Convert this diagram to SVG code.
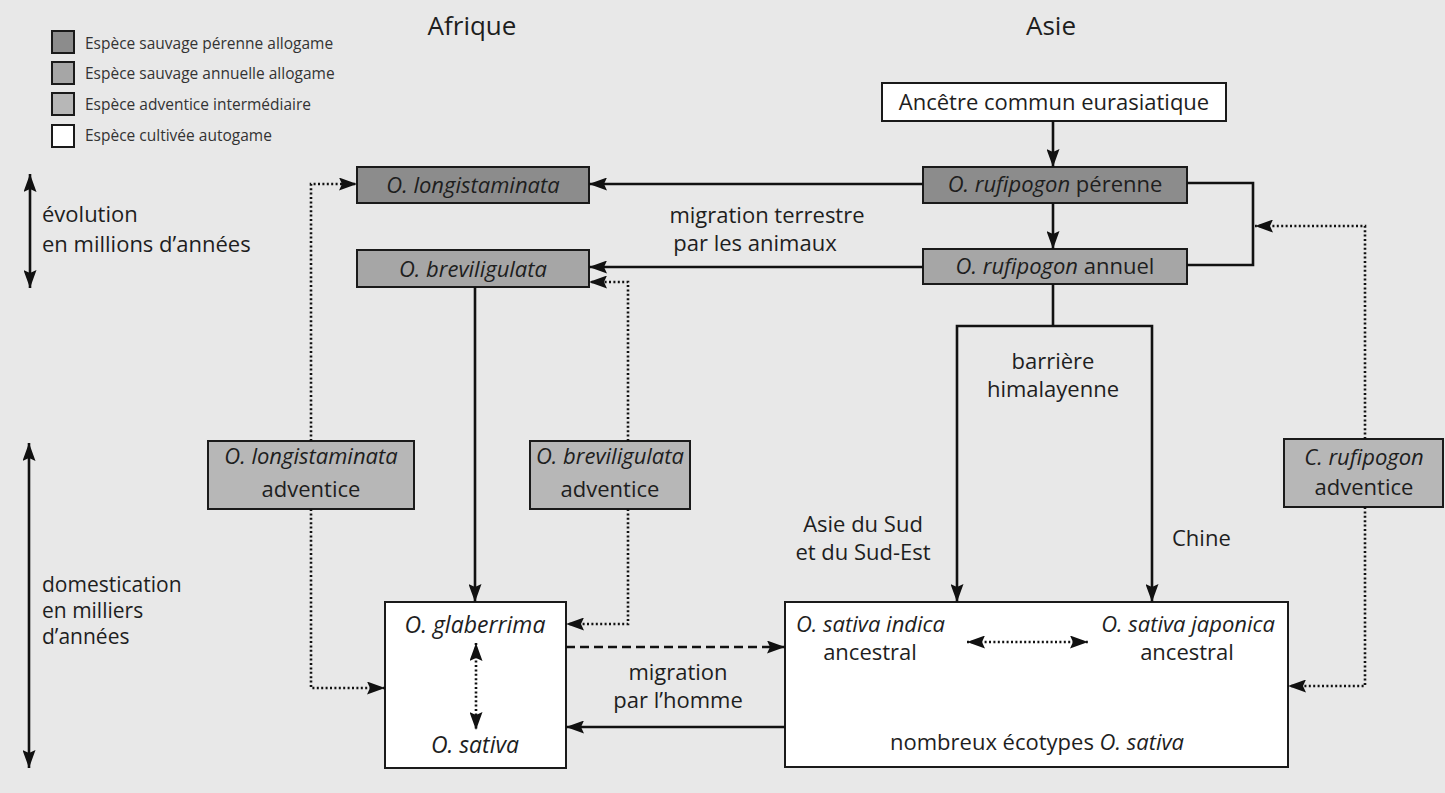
<svg xmlns="http://www.w3.org/2000/svg" width="1445" height="793" viewBox="0 0 1445 793">
<style>
text{font-family:"Open Sans","Noto Sans",sans-serif;fill:#1e1e1e}
.lg{font-size:15.5px;fill:#333}
.t{font-size:22px}
.ax{font-size:21px}
.bt{font-size:22px;text-anchor:middle}
.hd{font-size:26px;text-anchor:middle}
.i{font-style:italic}
.box{stroke:#1a1a1a;stroke-width:2}
.dark{fill:#8c8c8c}
.mid{fill:#a6a6a6}
.light{fill:#b7b7b7}
.white{fill:#ffffff}
.ln{fill:none;stroke:#111;stroke-width:2.6}
.dot{fill:none;stroke:#111;stroke-width:2.6;stroke-dasharray:2 2.4}
.dash{fill:none;stroke:#111;stroke-width:2.4;stroke-dasharray:9 5}
</style>
<defs>
<marker id="ah" viewBox="0 0 18 13" refX="18" refY="6.5" markerWidth="18" markerHeight="13" markerUnits="userSpaceOnUse" orient="auto-start-reverse">
<path d="M0,0 L18,6.5 L0,13 L3,6.5 z" fill="#111"/>
</marker>
</defs>
<rect width="1445" height="793" fill="#e8e8e8"/>

<g id="legend">
<rect x="52" y="31" width="22" height="22" class="box dark"/>
<rect x="52" y="62" width="22" height="22" class="box mid"/>
<rect x="52" y="93" width="22" height="22" class="box light"/>
<rect x="52" y="125" width="22" height="22" class="box white"/>
<text class="lg" x="85" y="49">Espèce sauvage pérenne allogame</text>
<text class="lg" x="85" y="79">Espèce sauvage annuelle allogame</text>
<text class="lg" x="85" y="110">Espèce adventice intermédiaire</text>
<text class="lg" x="85" y="141">Espèce cultivée autogame</text>
</g>

<g id="headers">
<text class="hd" x="472" y="35">Afrique</text>
<text class="hd" x="1051" y="35">Asie</text>
</g>

<g id="axes">
<path class="ln" d="M30,174 V288" marker-start="url(#ah)" marker-end="url(#ah)"/>
<text class="t" x="42" y="222">évolution</text>
<text class="t" x="42" y="252">en millions d’années</text>
<path class="ln" d="M29,443 V768" marker-start="url(#ah)" marker-end="url(#ah)"/>
<text class="ax" x="42" y="592">domestication</text>
<text class="ax" x="42" y="618">en milliers</text>
<text class="ax" x="42" y="644">d’années</text>
</g>

<g id="labels">
<text class="bt" x="767" y="223">migration terrestre</text>
<text class="bt" x="755" y="251">par les animaux</text>
<text class="bt" x="1053" y="369">barrière</text>
<text class="bt" x="1053" y="397">himalayenne</text>
<text class="bt" x="863" y="532">Asie du Sud</text>
<text class="bt" x="863" y="560">et du Sud-Est</text>
<text class="t" x="1172" y="546">Chine</text>
<text class="bt" x="678" y="680">migration</text>
<text class="bt" x="678" y="708">par l’homme</text>
</g>

<g id="ancetre">
<rect x="882" y="83" width="344" height="38" class="box white"/>
<text class="bt" x="1054" y="110">Ancêtre commun eurasiatique</text>
</g>
<g id="rufipogon-perenne">
<rect x="923" y="167" width="264" height="36" class="box dark"/>
<text class="bt" x="1055" y="192"><tspan class="i">O. rufipogon</tspan> pérenne</text>
</g>
<g id="rufipogon-annuel">
<rect x="923" y="249" width="264" height="35" class="box mid"/>
<text class="bt" x="1055" y="274"><tspan class="i">O. rufipogon</tspan> annuel</text>
</g>
<g id="longistaminata">
<rect x="357" y="167" width="232" height="36" class="box dark"/>
<text class="bt i" x="473" y="193">O. longistaminata</text>
</g>
<g id="breviligulata">
<rect x="357" y="250" width="232" height="37" class="box mid"/>
<text class="bt i" x="473" y="277">O. breviligulata</text>
</g>
<g id="longistaminata-adventice">
<rect x="208" y="441" width="206" height="68" class="box light"/>
<text class="bt i" x="311" y="464">O. longistaminata</text>
<text class="bt" x="311" y="497">adventice</text>
</g>
<g id="breviligulata-adventice">
<rect x="530" y="441" width="160" height="68" class="box light"/>
<text class="bt i" x="610" y="464">O. breviligulata</text>
<text class="bt" x="610" y="497">adventice</text>
</g>
<g id="rufipogon-adventice">
<rect x="1284" y="439" width="159" height="68" class="box light"/>
<text class="bt i" x="1364" y="465">C. rufipogon</text>
<text class="bt" x="1364" y="495">adventice</text>
</g>
<g id="glaberrima">
<rect x="385" y="602" width="181" height="166" class="box white"/>
<text class="bt i" x="475" y="633" style="font-size:23px">O. glaberrima</text>
<text class="bt i" x="475" y="753" style="font-size:23px">O. sativa</text>
</g>
<g id="sativa">
<rect x="785" y="602" width="503" height="165" class="box white"/>
<text class="t i" x="796" y="632">O. sativa indica</text>
<text class="bt" x="870" y="660">ancestral</text>
<text class="t i" x="1275" y="632" text-anchor="end">O. sativa japonica</text>
<text class="bt" x="1187" y="660">ancestral</text>
<text class="bt" x="1037" y="750">nombreux écotypes <tspan class="i">O. sativa</tspan></text>
</g>

<g id="connectors">
<path class="ln" d="M1053,121 V167" marker-end="url(#ah)"/>
<path class="ln" d="M1053,203 V249" marker-end="url(#ah)"/>
<path class="ln" d="M923,184 H589" marker-end="url(#ah)"/>
<path class="ln" d="M923,267 H589" marker-end="url(#ah)"/>
<path class="ln" d="M1187,183 H1253 V265 H1187"/>
<path class="dot" d="M1365,439 V226 H1255" marker-end="url(#ah)"/>
<path class="dot" d="M1365,507 V686 H1288" marker-end="url(#ah)"/>
<path class="ln" d="M1053,284 V326"/>
<path class="ln" d="M1053,326 H957 V602" marker-end="url(#ah)"/>
<path class="ln" d="M1053,326 H1152 V602" marker-end="url(#ah)"/>
<path class="ln" d="M475,287 V602" marker-end="url(#ah)"/>
<path class="dot" d="M311,441 V184 H357" marker-end="url(#ah)"/>
<path class="dot" d="M311,509 V688 H385" marker-end="url(#ah)"/>
<path class="dot" d="M628,441 V282 H589" marker-end="url(#ah)"/>
<path class="dot" d="M628,509 V624 H566" marker-end="url(#ah)"/>
<path class="dot" d="M476,643 V730" marker-start="url(#ah)" marker-end="url(#ah)"/>
<path class="dash" d="M566,647 H785" marker-end="url(#ah)"/>
<path class="ln" d="M785,727 H566" marker-end="url(#ah)"/>
<path class="dot" d="M967,642 H1088" marker-start="url(#ah)" marker-end="url(#ah)"/>
</g>
</svg>
